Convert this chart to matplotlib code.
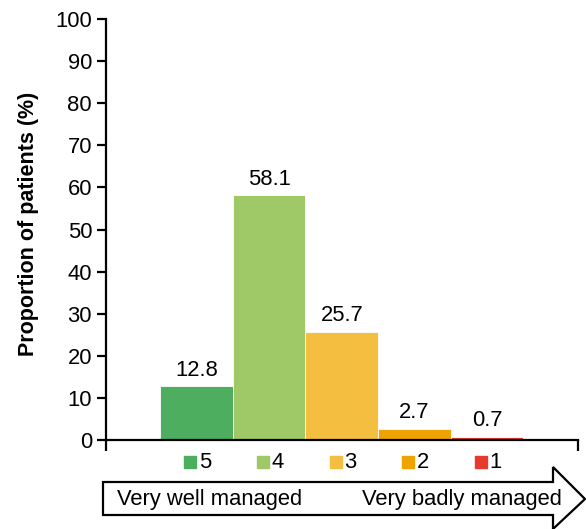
import matplotlib
matplotlib.use("Agg")
import matplotlib.pyplot as plt
from matplotlib.patches import Polygon

plt.rcParams['font.family'] = ['Liberation Sans', 'DejaVu Sans']

categories = ["5", "4", "3", "2", "1"]
values = [12.8, 58.1, 25.7, 2.7, 0.7]
labels = ["12.8", "58.1", "25.7", "2.7", "0.7"]
colors = ["#4CAE5E", "#9FC966", "#F4BF40", "#EEA300", "#E63A2E"]
yticks = [0, 10, 20, 30, 40, 50, 60, 70, 80, 90, 100]
arrow_left = "Very well managed"
arrow_right = "Very badly managed"
ylabel = "Proportion of patients (%)"

FS = 15.8
W, H = 586, 529
fig = plt.figure(figsize=(W / 100, H / 100), dpi=100)
ax = fig.add_axes([106 / W, 1 - 440 / H, (578 - 106) / W, (440 - 19) / H])

x = list(range(len(values)))
ax.bar(x, values, width=1.0, color=colors, edgecolor="white", linewidth=0.6, zorder=2)
for xi, v, lab in zip(x, values, labels):
    ax.annotate(lab, (xi, v), xytext=(0, 4), textcoords="offset points",
                ha="center", va="bottom", fontsize=FS)

ax.set_xlim(-1.245, 5.25)
ax.set_ylim(0, 100)
ax.set_yticks(yticks)
ax.set_yticklabels([str(t) for t in yticks], fontsize=FS)
ax.set_xticks([-1.245, 5.25])
ax.set_xticklabels(["", ""])
ax.tick_params(axis="both", direction="out", length=6.5, width=1.6, pad=3.5)
ax.tick_params(axis="x", length=8)
for s in ["top", "right"]:
    ax.spines[s].set_visible(False)
for s in ["left", "bottom"]:
    ax.spines[s].set_linewidth(1.6)
ax.set_ylabel(ylabel, fontsize=15.5, fontweight="bold")
ax.yaxis.set_label_coords(-0.142, 0.513)

# legend under each bar
for xi, c, cat in zip(x, colors, categories):
    ax.plot([xi - 0.085], [-0.052], marker="s", markersize=8, color=c,
            transform=ax.get_xaxis_transform(), clip_on=False, linestyle="none")
    ax.text(xi + 0.035, -0.053, cat, transform=ax.get_xaxis_transform(),
            ha="left", va="center", fontsize=FS)

# arrow
pts_px = [(103, 482), (553, 482), (553, 467), (585, 499), (553, 529),
          (553, 515), (103, 515)]
pts = [(px / W, 1 - py / H) for px, py in pts_px]
fig.patches.append(Polygon(pts, closed=True, facecolor="white", edgecolor="black",
                           linewidth=1.6, transform=fig.transFigure, figure=fig))
fig.text(117 / W, 1 - 499 / H, arrow_left, ha="left", va="center", fontsize=FS)
fig.text(562 / W, 1 - 499 / H, arrow_right, ha="right", va="center", fontsize=FS)

fig.savefig("out.png", dpi=100)
